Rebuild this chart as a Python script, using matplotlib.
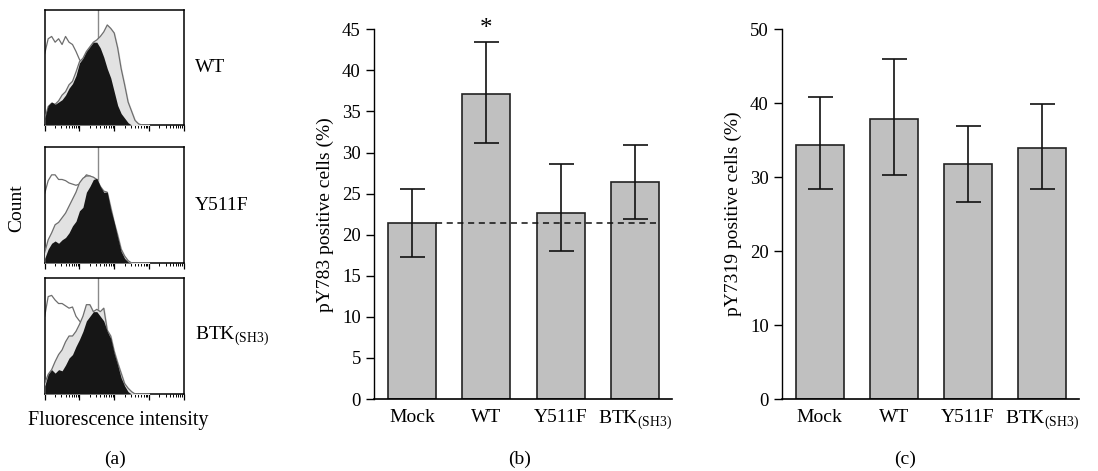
import numpy as np
import matplotlib
matplotlib.use("Agg")
import matplotlib.pyplot as plt
from matplotlib.ticker import LogLocator, NullFormatter

plt.rcParams['font.family'] = ['Liberation Serif', 'DejaVu Serif']
plt.rcParams['mathtext.fontset'] = 'custom'
plt.rcParams['mathtext.rm'] = 'Liberation Serif'

# bar chart data
groups = ['Mock', 'WT', 'Y511F', r'BTK$_{\mathrm{(SH3)}}$']
py783 = [21.4, 37.1, 22.7, 26.4]
py783_lo = [17.3, 31.2, 18.0, 21.9]
py783_hi = [25.6, 43.4, 28.6, 30.9]
py7319 = [34.4, 37.9, 31.8, 34.0]
py7319_lo = [28.4, 30.3, 26.7, 28.4]
py7319_hi = [40.9, 46.0, 36.9, 39.9]

# flow histograms, log10 intensity 0..3 (step 0.1), counts as % of max scale
log_bins = np.round(np.arange(0, 3.01, 0.1), 1)
hist_names = ['WT', 'Y511F', r'BTK$_{\mathrm{(SH3)}}$']
open_counts = [
    [62, 75, 77, 72, 75, 70, 77, 72, 70, 64, 57, 52, 46, 40, 32, 25, 18, 12, 7, 4, 2, 1, 0, 0, 0, 0, 0, 0, 0, 0, 0],
    [60, 71, 76, 76, 72, 72, 71, 69, 68, 67, 68, 72, 76, 75, 73, 71, 60, 45, 30, 18, 10, 5, 2, 0, 0, 0, 0, 0, 0, 0, 0],
    [67, 84, 85, 81, 78, 78, 76, 74, 75, 67, 63, 60, 55, 48, 40, 32, 24, 16, 10, 6, 3, 1, 0, 0, 0, 0, 0, 0, 0, 0, 0],
]
gray_counts = [
    [5, 16, 19, 18, 21, 26, 29, 35, 38, 46, 55, 58, 64, 68, 72, 74, 77, 81, 87, 84, 80, 67, 49, 35, 20, 12, 4, 1, 0, 0, 0],
    [9, 20, 26, 33, 35, 39, 43, 49, 55, 61, 69, 73, 75, 75, 74, 72, 66, 62, 61, 48, 35, 24, 12, 6, 2, 0, 0, 0, 0, 0, 0],
    [9, 17, 21, 28, 34, 38, 45, 50, 50, 54, 60, 67, 77, 77, 71, 73, 71, 74, 55, 50, 37, 27, 18, 9, 5, 2, 0, 0, 0, 0, 0],
]
black_counts = [
    [6, 17, 20, 18, 20, 22, 26, 32, 36, 43, 54, 58, 64, 68, 72, 72, 67, 59, 49, 41, 29, 17, 10, 6, 2, 0, 0, 0, 0, 0, 0],
    [4, 12, 17, 19, 17, 20, 22, 26, 32, 36, 45, 48, 61, 66, 72, 73, 66, 61, 61, 46, 35, 22, 10, 4, 1, 0, 0, 0, 0, 0, 0],
    [7, 17, 21, 18, 21, 20, 25, 31, 34, 41, 47, 54, 63, 67, 71, 71, 67, 63, 54, 48, 35, 25, 14, 7, 2, 0, 0, 0, 0, 0, 0],
]
gate_log = 1.53

fig = plt.figure(figsize=(10.98, 4.71), dpi=100)
W, H = 1098, 471


def px_axes(x0, y0, x1, y1):
    return fig.add_axes([x0 / W, 1 - y1 / H, (x1 - x0) / W, (y1 - y0) / H])


# ---- panel (a)
boxes = [(10, 125), (147, 263), (278, 394)]
xs = 10 ** log_bins
for i, (top, bot) in enumerate(boxes):
    ax = px_axes(44.7, top, 183.7, bot)
    ax.set_xscale('log')
    ax.axvline(10 ** gate_log, color='#8a8a8a', lw=1, zorder=1)
    ax.plot(xs, open_counts[i], color='#6e6e6e', lw=0.9, zorder=2)
    ax.fill_between(xs, 0, gray_counts[i], color='#e2e2e2', zorder=3)
    ax.plot(xs, gray_counts[i], color='#6e6e6e', lw=0.9, zorder=3)
    ax.fill_between(xs, 0, black_counts[i], color='#161616', lw=0, zorder=4)
    ax.set_xlim(1, 1e4)
    ax.set_ylim(0, 100)
    ax.set_yticks([])
    ax.xaxis.set_major_locator(LogLocator(base=10, numticks=10))
    ax.xaxis.set_minor_locator(LogLocator(base=10, subs=np.arange(2, 10), numticks=50))
    ax.xaxis.set_minor_formatter(NullFormatter())
    ax.tick_params(axis='x', which='major', length=4, width=0.9, labelbottom=False)
    ax.tick_params(axis='x', which='minor', length=2.5, width=0.7, labelbottom=False)
    for s in ax.spines.values():
        s.set_linewidth(1.1)
    fig.text(195 / W, 1 - ((top + bot) / 2) / H, hist_names[i], fontsize=14,
             ha='left', va='center')

fig.text(17 / W, 1 - 208 / H, 'Count', rotation=90, fontsize=14, ha='center', va='center')
fig.text(118 / W, 1 - 421 / H, 'Fluorescence intensity', fontsize=14.5, ha='center', va='center')
fig.text(115 / W, 1 - 459 / H, '(a)', fontsize=14, ha='center', va='center')

# ---- panels (b) and (c)
xpos = np.arange(len(groups))
bar_w = 0.646


def bar_panel(ax, vals, lo, hi, ymax, step, ylabel):
    yerr = [np.subtract(vals, lo), np.subtract(hi, vals)]
    ax.bar(xpos, vals, width=bar_w, color='#c0c0c0', edgecolor='#222222', lw=1.2, zorder=2)
    ax.errorbar(xpos, vals, yerr=yerr, fmt='none', ecolor='#111111', elinewidth=1.2,
                capsize=9, capthick=1.2, zorder=3)
    ax.set_xlim(-0.51, 3.5)
    ax.set_ylim(0, ymax)
    ax.set_yticks(np.arange(0, ymax + 1, step))
    ax.set_xticks(xpos)
    ax.set_xticklabels(groups, fontsize=14)
    ax.tick_params(axis='x', length=0, pad=7)
    ax.tick_params(axis='y', length=6, width=1, labelsize=13.5)
    ax.spines['top'].set_visible(False)
    ax.spines['right'].set_visible(False)
    ax.spines['left'].set_linewidth(1)
    ax.spines['bottom'].set_linewidth(1.2)
    ax.set_ylabel(ylabel, fontsize=14, labelpad=6)


axb = px_axes(374, 29.3, 672, 399)
bar_panel(axb, py783, py783_lo, py783_hi, 45, 5, 'pY783 positive cells (%)')
axb.hlines(py783[0], xpos[0] + bar_w / 2, xpos[3] + bar_w / 2, colors='#111111',
           linestyles=(0, (4, 3)), lw=1.1, zorder=4)
axb.text(xpos[1], py783_hi[1] + 1.6, '*', fontsize=18, ha='center', va='center',
         clip_on=False)
fig.text(520 / W, 1 - 459 / H, '(b)', fontsize=14, ha='center', va='center')

axc = px_axes(782, 29.3, 1079, 399)
bar_panel(axc, py7319, py7319_lo, py7319_hi, 50, 10, 'pY7319 positive cells (%)')
fig.text(905 / W, 1 - 459 / H, '(c)', fontsize=14, ha='center', va='center')

fig.savefig('out.png', dpi=100)
